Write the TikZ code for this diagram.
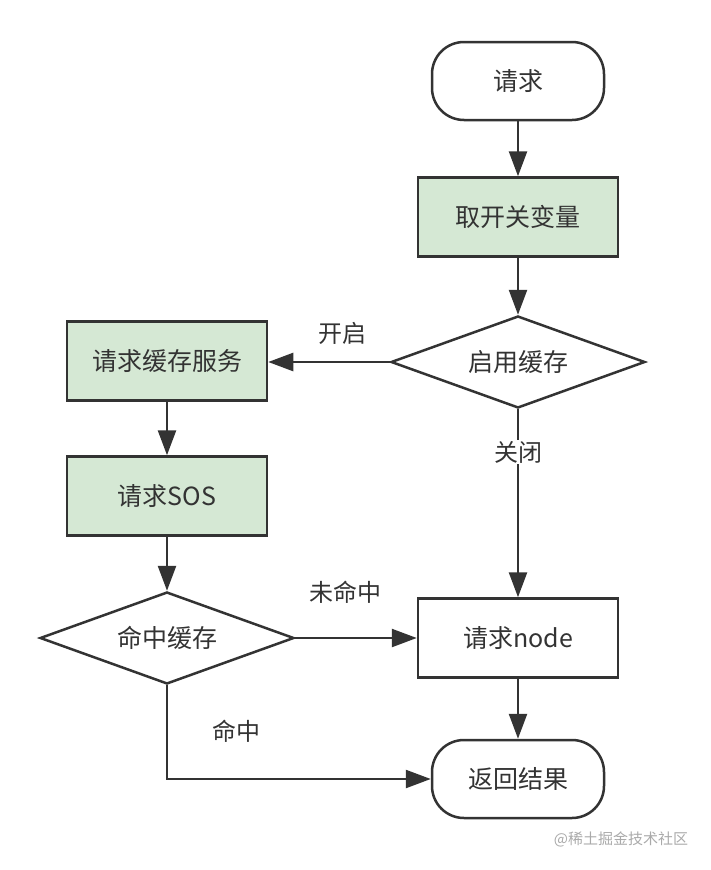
\documentclass[tikz,border=0pt]{standalone}
\usepackage{fontspec}
\setmainfont{Noto Sans CJK SC}
\usetikzlibrary{arrows.meta,shapes.geometric}
\definecolor{ink}{HTML}{333333}
\definecolor{gfill}{HTML}{D5E8D4}
\definecolor{wm}{HTML}{AAAAAA}
\tikzset{
  base/.style={draw=ink, line width=2.5pt, text=ink, font=\fontsize{25pt}{29pt}\selectfont, inner sep=0pt},
  term/.style={base, rounded corners=32pt, minimum width=172pt, minimum height=78pt},
  proc/.style={base, fill=gfill, minimum width=200pt, minimum height=79pt},
  plainbox/.style={base, minimum width=200pt, minimum height=79pt},
  dec/.style={base, diamond, shape aspect=2.75, minimum width=254pt, minimum height=92pt},
  arr/.style={draw=ink, line width=2.5pt, -{Triangle[length=25pt,width=18pt]}},
  lbl/.style={text=ink, font=\fontsize{24pt}{28pt}\selectfont, inner sep=1pt},
}
\begin{document}
\begin{tikzpicture}[x=1pt,y=-1pt]
\useasboundingbox[fill=white] (0,0) rectangle (710,870);
\node[term] (req) at (518,81) {请求};
\node[proc] (var) at (518,217) {取开关变量};
\node[dec] (en) at (518,362) {启用缓存};
\node[proc] (svc) at (167,361) {请求缓存服务};
\node[proc] (sos) at (167,496) {请求SOS};
\node[dec] (hit) at (167,638) {命中缓存};
\node[plainbox] (nd) at (518,638) {请求node};
\node[term] (ret) at (518,779) {返回结果};

\draw[arr] (req) -- (var);
\draw[arr] (var) -- (en);
\draw[arr] (en.west) -- (en.west -| svc.east);
\draw[arr] (svc) -- (sos);
\draw[arr] (sos) -- (hit);
\draw[arr] (hit.east) -- (nd.west);
\draw[arr] (en.south) -- (nd.north);
\draw[arr] (nd) -- (ret);
\draw[arr] (hit.south) |- (ret.west);

\node[lbl] (lon) at (342,333) {开启};
\node[lbl, fill=white] (loff) at (518,452) {关闭};
\node[lbl] (lmiss) at (345,592) {未命中};
\node[lbl] (lhit) at (236,731) {命中};
\node[text=wm, font=\fontsize{15pt}{18pt}\selectfont, inner sep=0pt] (mark) at (621,839) {@稀土掘金技术社区};
\end{tikzpicture}
\end{document}
